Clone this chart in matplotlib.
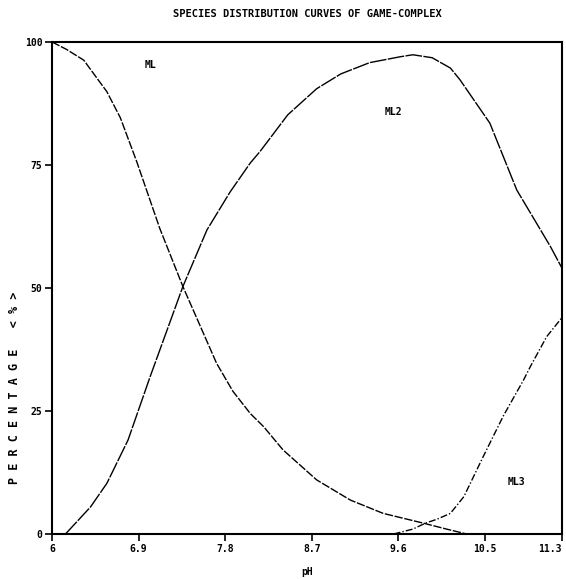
import matplotlib.pyplot as plt

# values
ml_ph = [6.0, 6.15, 6.33, 6.57, 6.71, 6.88, 7.12, 7.36, 7.71, 7.88, 8.06, 8.20, 8.40, 8.75, 9.10, 9.44, 9.86, 10.1, 10.31]
ml_pct = [100, 98.5, 96.3, 89.9, 84.6, 75.7, 62.1, 50.3, 34.7, 29.0, 24.5, 21.8, 17.1, 11.0, 6.9, 4.2, 2.2, 1.0, 0]

ml2_ph = [6.14, 6.40, 6.57, 6.79, 7.02, 7.36, 7.61, 7.85, 8.06, 8.16, 8.45, 8.75, 9.0, 9.3, 9.62, 9.75, 9.95, 10.14, 10.24, 10.55, 10.83, 11.18, 11.3]
ml2_pct = [0, 5.5, 10.3, 19.1, 32, 50.3, 61.8, 69.5, 75.4, 77.7, 85.2, 90.5, 93.5, 95.8, 97, 97.4, 96.8, 94.7, 92.3, 83.5, 69.9, 58.4, 54]

ml3_ph = [9.55, 9.75, 9.88, 10.0, 10.14, 10.28, 10.48, 10.69, 10.90, 10.97, 11.14, 11.3]
ml3_pct = [0, 1.0, 2.2, 3.0, 4.2, 7.6, 15.7, 24.0, 31.3, 34.0, 40.1, 44]

x_ticks = [6, 6.9, 7.8, 8.7, 9.6, 10.5, 11.3]
y_ticks = [0, 25, 50, 75, 100]

font = {'family': 'DejaVu Sans Mono', 'weight': 'bold'}

fig = plt.figure(figsize=(5.66, 5.79), dpi=100)
ax = fig.add_axes([0.0919, 0.0777, 0.9011, 0.8498])

ax.plot(ml_ph, ml_pct, color='black', lw=1.0, linestyle=(0, (6, 1.2)))
ax.plot(ml2_ph, ml2_pct, color='black', lw=1.0, linestyle=(0, (12, 1)))
ax.plot(ml3_ph, ml3_pct, color='black', lw=1.0, linestyle=(0, (5, 1.5, 1, 1.5)))

ax.text(7.02, 95.3, 'ML', fontsize=7, ha='center', va='center', **font)
ax.text(9.55, 85.8, 'ML2', fontsize=7, ha='center', va='center', **font)
ax.text(10.83, 10.6, 'ML3', fontsize=7, ha='center', va='center', **font)

ax.set_xlim(6, 11.3)
ax.set_ylim(0, 100)
ax.set_xticks(x_ticks)
ax.set_xticklabels([str(t) for t in x_ticks], fontsize=7, **font)
ax.get_xticklabels()[-1].set_horizontalalignment('right')
ax.set_yticks(y_ticks)
ax.set_yticklabels([str(t) for t in y_ticks], fontsize=7, **font)
ax.tick_params(direction='out', length=5, width=1.2, pad=2)

for side in ax.spines.values():
    side.set_linewidth(1.5)

ax.set_title('SPECIES DISTRIBUTION CURVES OF GAME-COMPLEX', fontsize=7.5, pad=18, **font)
fig.text(0.543, 0.003, 'pH', fontsize=7, ha='center', va='bottom', **font)
fig.text(0.025, 0.33, 'P E R C E N T A G E   < % >', fontsize=8.5, rotation=90,
         ha='center', va='center', **font)

plt.savefig('out.png', dpi=100)
